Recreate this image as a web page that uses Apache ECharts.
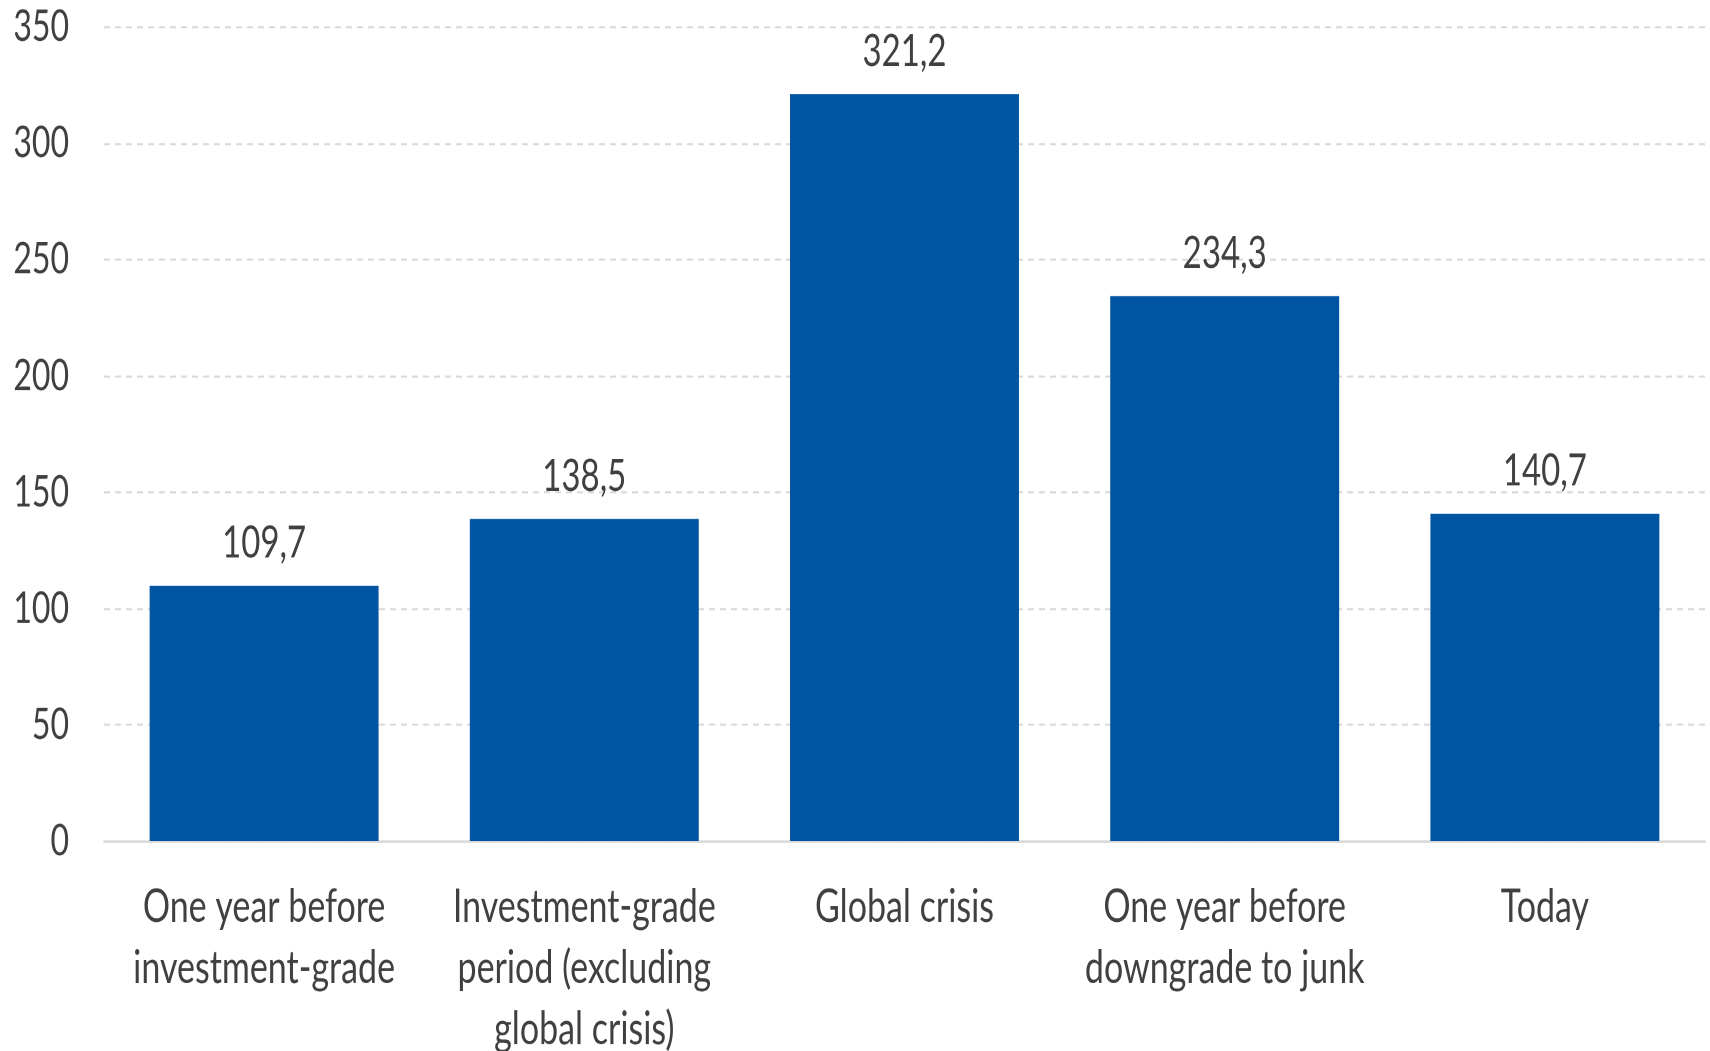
<!DOCTYPE html>
<html>
<head>
<meta charset="utf-8">
<style>
  html { margin: 0; padding: 0; background: #ffffff; overflow: hidden; }
  body { margin: 0; padding: 0; background: #ffffff; width: 1710px; height: 1051px; }
  /* the chart is laid out at a shorter height and stretched vertically,
     which gives the tall, condensed lettering of the original figure */
  #chart {
    width: 1710px;
    height: 773px;
    transform: scaleY(1.35964);
    transform-origin: 0 0;
  }
</style>
<script src="https://cdn.jsdelivr.net/npm/echarts@6/dist/echarts.min.js"></script>
</head>
<body>
<div id="chart"></div>
<script>
// Spread levels by period
const categories = [
  'One year before\ninvestment-grade',
  'Investment-grade\nperiod (excluding\nglobal crisis)',
  'Global crisis',
  'One year before\ndowngrade to junk',
  'Today'
];
const spreadValues = [109.7, 138.5, 321.2, 234.3, 140.7];
const yTicks = { min: 0, max: 350, interval: 50 };

const FONT = 'Lato, "Noto Sans", sans-serif';
const TEXT = '#404040';

const chart = echarts.init(document.getElementById('chart'), null, {
  renderer: 'canvas',
  devicePixelRatio: 2
});

chart.setOption({
  animation: false,
  backgroundColor: '#ffffff',
  grid: {
    left: 104, right: 5, top: 19.86, bottom: 154.45,
    containLabel: false,
    outerBoundsMode: 'none'
  },
  xAxis: {
    type: 'category',
    data: categories,
    axisLine: { show: true, lineStyle: { color: '#d9d9d9', width: 1.8 } },
    axisTick: { show: false },
    axisLabel: {
      interval: 0,
      color: TEXT,
      fontFamily: FONT,
      fontSize: 34,
      lineHeight: 45,
      margin: 26
    }
  },
  yAxis: {
    type: 'value',
    min: yTicks.min,
    max: yTicks.max,
    interval: yTicks.interval,
    axisLine: { show: false },
    axisTick: { show: false },
    splitLine: { show: true, lineStyle: { color: '#d9d9d9', type: [6, 5], width: 1.5 } },
    axisLabel: {
      color: TEXT,
      fontFamily: FONT,
      fontSize: 32,
      margin: 35
    }
  },
  series: [{
    type: 'bar',
    data: spreadValues,
    barWidth: '71.5%',
    itemStyle: { color: '#0054A1' },
    label: {
      show: true,
      position: 'top',
      distance: 15,
      color: TEXT,
      fontFamily: FONT,
      fontSize: 33,
      formatter: p => p.value.toFixed(1).replace('.', ',')
    }
  }]
});
</script>
</body>
</html>
